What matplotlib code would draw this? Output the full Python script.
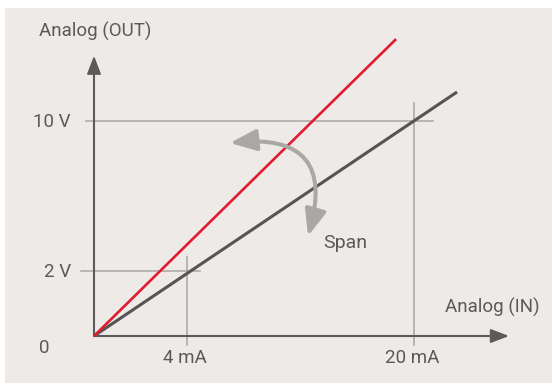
import matplotlib
matplotlib.use("Agg")
import matplotlib.pyplot as plt
from matplotlib.patches import FancyArrowPatch, Rectangle

# Input range ticks (schematic positions along the IN axis)
in_labels = ["4 mA", "20 mA"]
in_pos = [5.83, 20.0]

# Output range ticks (schematic positions along the OUT axis)
out_labels = ["2 V", "10 V"]
out_pos = [3.04, 10.0]

# Default characteristic (4 mA -> 2 V, 20 mA -> 10 V) and the span-adjusted one
default_x = [0.0, 22.69]
default_y = [0.0, 11.35]
adjusted_x = [0.0, 18.88]
adjusted_y = [0.0, 13.81]

TEXT = "#5a5a5a"
AXIS = "#5b5b5b"
GUIDE = "#a9a6a2"
PANEL = "#edeae7"
RED = "#e31b2e"
ARC = "#a9a8a4"

plt.rcParams["font.family"] = ["Roboto", "DejaVu Sans"]

fig = plt.figure(figsize=(5.52, 3.85), dpi=100)
fig.patch.set_facecolor("white")
ax = fig.add_axes([0, 0, 1, 1])
ax.set_xlim(-5.875, 28.625)
ax.set_ylim(-2.279, 15.628)
ax.axis("off")

# background panel
ax.add_patch(Rectangle((5 / 552, 2 / 385), 547 / 552, 375 / 385,
                       transform=ax.transAxes, facecolor=PANEL,
                       edgecolor="none", zorder=0))

# guide lines for the tick values
ax.plot([-0.5, 21.2], [out_pos[1]] * 2, color=GUIDE, lw=1.1, zorder=2)
ax.plot([-0.81, 6.6], [out_pos[0]] * 2, color=GUIDE, lw=1.1, zorder=2)
ax.plot([in_pos[0]] * 2, [-0.42, 3.67], color=GUIDE, lw=1.1, zorder=2)
ax.plot([in_pos[1]] * 2, [-0.42, 10.85], color=GUIDE, lw=1.1, zorder=2)

# axes with arrow heads
for end in [(25.94, 0.0), (0.0, 13.04)]:
    ax.add_patch(FancyArrowPatch((0, 0), end,
                                 arrowstyle="-|>,head_length=11,head_width=4.2",
                                 mutation_scale=1, color=AXIS, lw=1.5,
                                 shrinkA=0, shrinkB=0, zorder=3))

# characteristics
ax.plot(default_x, default_y, color="#555555", lw=2.2, zorder=4,
        solid_capstyle="butt")
ax.plot(adjusted_x, adjusted_y, color=RED, lw=1.9, zorder=5,
        solid_capstyle="butt")

# span adjustment arrow
ax.add_patch(FancyArrowPatch((8.5, 8.98), (13.375, 4.65),
                             connectionstyle="arc3,rad=-0.74",
                             arrowstyle="<|-|>,head_length=16,head_width=6.5",
                             mutation_scale=1, color=ARC, lw=2.9,
                             shrinkA=0, shrinkB=0, zorder=6))

fs = 13.5
ax.text(-3.44, 13.92, "Analog (OUT)", color=TEXT, fontsize=fs,
        ha="left", va="baseline")
ax.text(21.94, 1.06, "Analog (IN)", color=TEXT, fontsize=fs,
        ha="left", va="baseline")
ax.text(14.3, 4.07, "Span", color=TEXT, fontsize=fs + 0.5, ha="left",
        va="baseline")
ax.text(-3.125, -0.80, "0", color=TEXT, fontsize=fs, ha="center", va="baseline")

for lab, x in zip(in_labels, in_pos):
    ax.text(x - 0.12, -1.27, lab, color=TEXT, fontsize=fs,
            ha="center", va="baseline")
for lab, y in zip(out_labels, out_pos):
    ax.text(-1.45, y - 0.28, lab, color=TEXT, fontsize=fs,
            ha="right", va="baseline")

fig.savefig("out.png", dpi=100, facecolor="white")
